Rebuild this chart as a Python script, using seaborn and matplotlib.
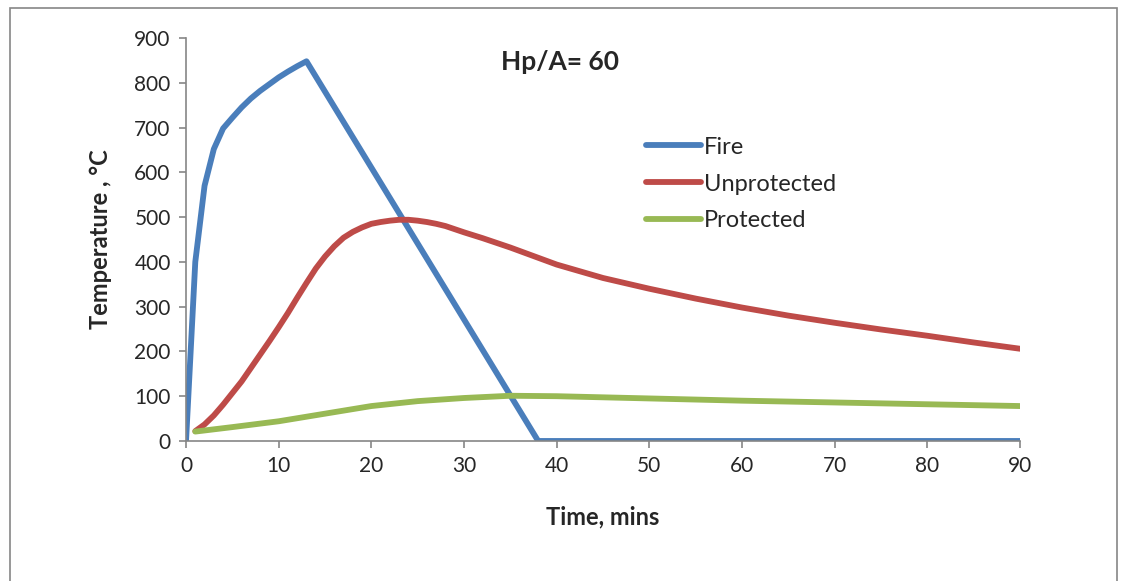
import matplotlib
matplotlib.use('Agg')
import matplotlib.pyplot as plt
import seaborn as sns
from matplotlib.patches import Rectangle

# Data
fire_time = [0, 1, 2, 3, 4, 5, 6, 7, 8, 9, 10, 11, 12, 13, 38, 90]
fire_temp = [0, 400, 570, 652, 698, 722, 745, 765, 782, 797, 812, 825, 837, 848, 0, 0]

unprot_time = [1, 2, 3, 4, 5, 6, 7, 8, 9, 10, 11, 12, 13, 14, 15, 16, 17, 18, 19, 20,
               21, 22, 23, 24, 25, 26, 27, 28, 30, 32, 35, 40, 45, 50, 55, 60, 65, 70,
               75, 80, 85, 90]
unprot_temp = [22, 37, 57, 81, 107, 133, 163, 193, 223, 254, 286, 320, 353, 385, 412, 435,
               454, 467, 477, 485, 489, 492, 494, 494, 492, 489, 485, 480, 466, 453, 432,
               394, 364, 340, 318, 298, 280, 264, 249, 235, 220, 206]

prot_time = [1, 5, 10, 15, 20, 25, 30, 35, 40, 50, 60, 70, 80, 90]
prot_temp = [21, 31, 44, 61, 78, 89, 96, 101, 100, 95, 90, 86, 82, 78]

x_ticks = list(range(0, 91, 10))
y_ticks = list(range(0, 901, 100))

sns.set_style('white')
plt.rcParams['font.family'] = ['Lato', 'DejaVu Sans']

fig = plt.figure(figsize=(11.24, 5.81), dpi=100)
ax = fig.add_axes([0.1655, 0.241, 0.742, 0.6936])

# outer chart frame
fig.patches.append(Rectangle((10 / 1124, -0.05), 1107 / 1124, 1 - 8 / 581 + 0.05,
                             transform=fig.transFigure, fill=False,
                             edgecolor='#868686', linewidth=1.2))

sns.lineplot(x=fire_time, y=fire_temp, ax=ax, color='#4A7EBB', lw=4.2, label='Fire')
sns.lineplot(x=unprot_time, y=unprot_temp, ax=ax, color='#BE4B48', lw=4.2, label='Unprotected')
sns.lineplot(x=prot_time, y=prot_temp, ax=ax, color='#98B954', lw=4.2, label='Protected')

ax.set_xlim(0, 90)
ax.set_ylim(0, 900)
ax.set_xticks(x_ticks)
ax.set_yticks(y_ticks)
ax.tick_params(axis='both', labelsize=15, length=5, width=1.2, color='#868686',
               direction='out', left=True, bottom=True, pad=6)
for side in ['top', 'right']:
    ax.spines[side].set_visible(False)
for side in ['left', 'bottom']:
    ax.spines[side].set_color('#868686')
    ax.spines[side].set_linewidth(1.2)

ax.set_xlabel('Time, mins', fontsize=17, fontweight='bold', labelpad=21)
ax.set_ylabel('Temperature , °C', fontsize=17, fontweight='bold', labelpad=16)
ax.text(0.448, 0.94, 'Hp/A= 60', transform=ax.transAxes, ha='center', va='center',
        fontsize=19, fontweight='bold')

ax.legend(loc='upper left', bbox_to_anchor=(0.552, 0.755), frameon=False, fontsize=17,
          handlelength=2.3, handletextpad=0.15, labelspacing=0.67,
          borderaxespad=0, borderpad=0)

plt.savefig('out.png', dpi=100)
plt.close('all')
